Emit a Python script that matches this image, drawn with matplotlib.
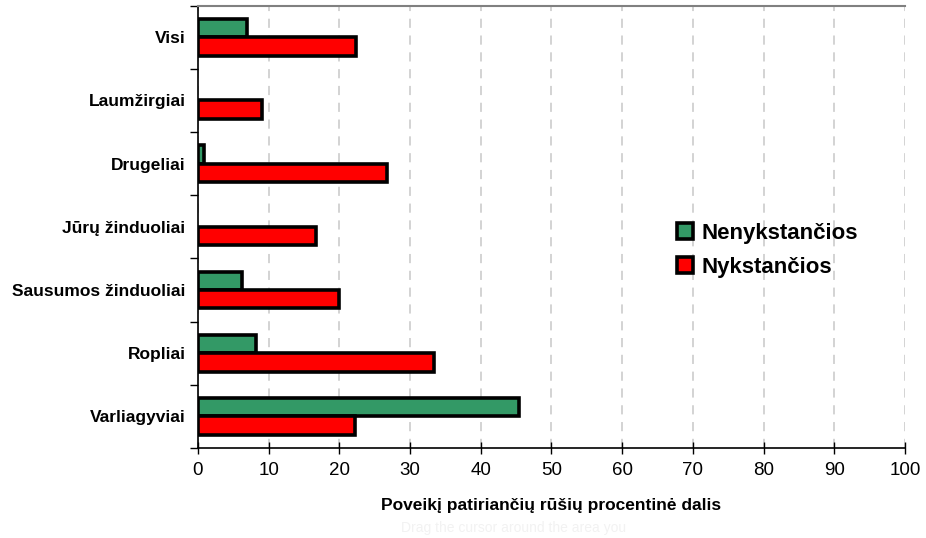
import matplotlib
matplotlib.use("Agg")
import matplotlib.pyplot as plt
import numpy as np
from matplotlib.patches import Patch

categories = ["Visi", "Laumžirgiai", "Drugeliai", "Jūrų žinduoliai",
              "Sausumos žinduoliai", "Ropliai", "Varliagyviai"]
nenykstancios = [6.9, 0.0, 0.8, 0.0, 6.2, 8.2, 45.4]
nykstancios = [22.4, 9.1, 26.8, 16.7, 20.0, 33.4, 22.2]
x_ticks = list(range(0, 101, 10))

GREEN = "#339966"
RED = "#ff0000"
SANS = ["Liberation Sans", "DejaVu Sans"]
NARROW = ["Liberation Sans Narrow", "Liberation Sans", "DejaVu Sans"]
EDGE_W = 2.6


def edge_widths(vals):
    # empty bars get no outline, otherwise a black stub shows at 0
    return [EDGE_W if v > 0 else 0 for v in vals]


fig = plt.figure(figsize=(9.26, 5.38), dpi=100)
ax = fig.add_axes([0.2138, 0.1673, 0.7635, 0.8221])

y = np.arange(len(categories))
h = 0.29
ax.barh(y - h / 2, nenykstancios, height=h, color=GREEN, edgecolor="black",
        linewidth=edge_widths(nenykstancios), zorder=3)
ax.barh(y + h / 2, nykstancios, height=h, color=RED, edgecolor="black",
        linewidth=edge_widths(nykstancios), zorder=3)

ax.set_xlim(0, 100)
ax.set_ylim(len(categories) - 0.5, -0.5)

# x axis
ax.set_xticks(x_ticks)
ax.set_xticklabels([str(t) for t in x_ticks], family=NARROW, fontsize=13.5)
ax.tick_params(axis="x", direction="inout", length=8, width=1, pad=6, colors="black")
ax.grid(axis="x", color="#c8c8c8", linestyle=(0, (6, 5)), linewidth=1.1, zorder=0)
ax.set_xlabel("Poveikį patiriančių rūšių procentinė dalis", family=SANS,
              fontsize=12.5, fontweight="bold", labelpad=14)

# y axis: ticks on category boundaries, labels in the middle
ax.set_yticks(np.arange(-0.5, len(categories), 1.0))
ax.set_yticklabels([])
ax.tick_params(axis="y", which="major", direction="out", length=6, width=1)
ax.set_yticks(y, minor=True)
ax.set_yticklabels(categories, minor=True, family=SANS, fontsize=12.5, fontweight="bold")
ax.tick_params(axis="y", which="minor", length=0, pad=9)

ax.spines["right"].set_visible(False)
ax.spines["top"].set_color("#808080")
ax.spines["top"].set_linewidth(1.5)
ax.spines["left"].set_linewidth(1.2)
ax.spines["bottom"].set_linewidth(1.2)

handles = [Patch(facecolor=GREEN, edgecolor="black", linewidth=EDGE_W, label="Nenykstančios"),
           Patch(facecolor=RED, edgecolor="black", linewidth=EDGE_W, label="Nykstančios")]
ax.legend(handles=handles, loc="upper left", bbox_to_anchor=(0.649, 0.555), frameon=False,
          prop={"family": SANS, "size": 16, "weight": "bold"},
          handlelength=0.75, handleheight=0.75, handletextpad=0.35, labelspacing=0.6)

# faint screen-capture remnant below the axis label
fig.text(0.555, 0.005, "Drag the cursor around the area you", ha="center", va="bottom",
         family=SANS, fontsize=10, color="#f2f2f2")

fig.savefig("out.png", dpi=100)
